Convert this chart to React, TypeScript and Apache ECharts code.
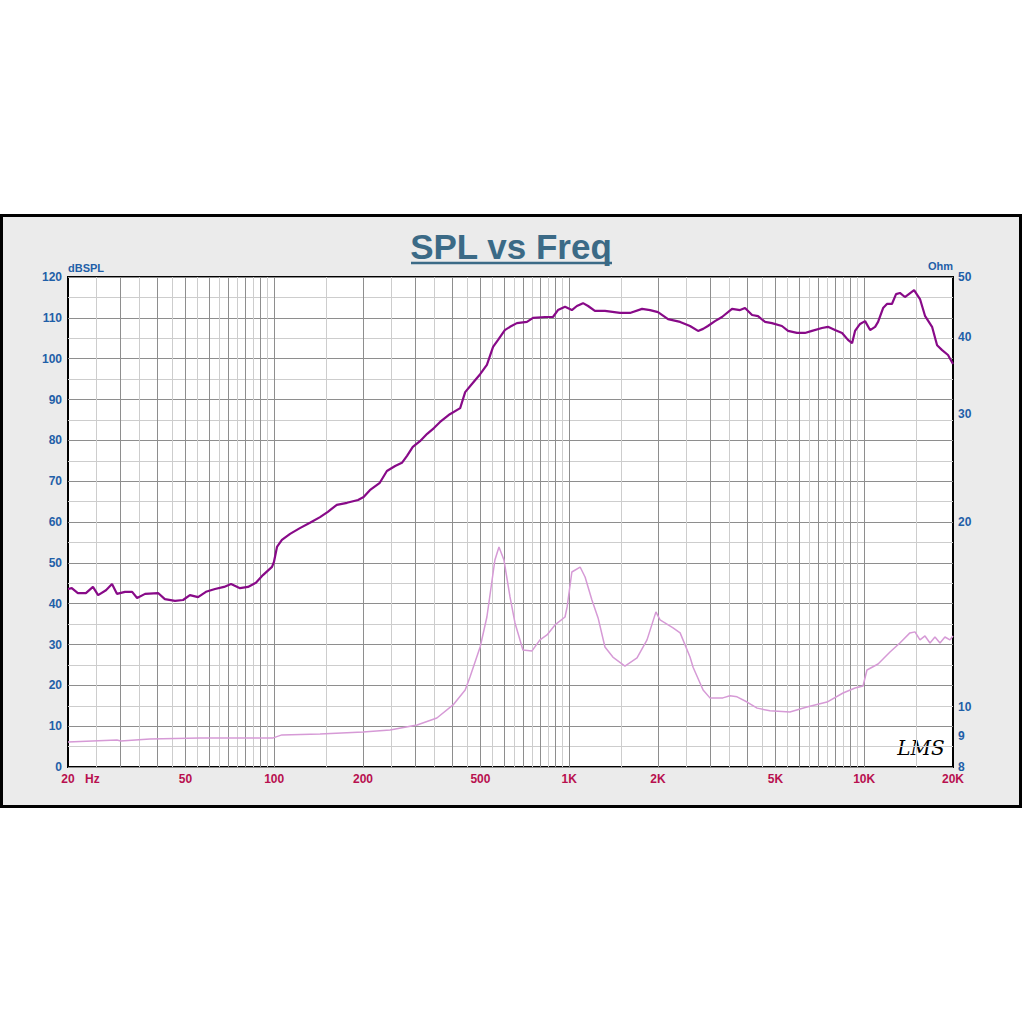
import React, { useEffect, useRef } from "react";
import * as echarts from "echarts";

// SPL curve (frequency Hz, dB SPL)
const SPL_FREQ = [20, 20.6, 21.6, 23.0, 24.3, 25.3, 26.9, 28.2, 29.3, 31.2, 33.0, 34.3, 36.5, 40.4, 42.6, 46.1, 49.1, 51.8, 55.2, 58.7, 63.0, 67.6, 71.4, 76.6, 81.5, 86.7, 91.6, 98.3, 99.8, 102.2, 106.2, 113.2, 122.2, 132.2, 143, 152, 163, 176.6, 192.4, 201, 211, 228, 241, 257, 271, 282, 295, 312, 330, 348, 365, 394, 427, 444, 468, 499, 526, 552, 574, 605, 630, 665, 719, 754, 828, 881, 916, 968, 1021, 1062, 1114, 1159, 1222, 1322, 1486, 1607, 1766, 1880, 2000, 2163, 2377, 2568, 2734, 2844, 2952, 3120, 3296, 3564, 3794, 3945, 4168, 4366, 4613, 4866, 5260, 5521, 5916, 6296, 6654, 7194, 7534, 7962, 8414, 8812, 9098, 9311, 9683, 10070, 10472, 10890, 11144, 11589, 11941, 12418, 12823, 13213, 13740, 14762, 15458, 16072, 16985, 17665, 18372, 19237, 20000];
const SPL_DB = [43.6, 43.8, 42.6, 42.6, 44.1, 42.1, 43.3, 44.8, 42.4, 42.9, 42.9, 41.4, 42.4, 42.6, 41.1, 40.7, 40.9, 42.1, 41.6, 42.9, 43.6, 44.1, 44.8, 43.8, 44.1, 45.1, 47.0, 49.0, 50.2, 53.9, 55.6, 57.1, 58.5, 59.8, 61.2, 62.5, 64.2, 64.7, 65.4, 66.1, 67.8, 69.6, 72.5, 73.7, 74.5, 76.2, 78.4, 79.8, 81.6, 83.0, 84.5, 86.4, 87.9, 91.8, 93.8, 96.2, 98.5, 102.9, 104.6, 107.0, 107.8, 108.7, 109.0, 110.0, 110.2, 110.2, 111.9, 112.7, 111.9, 112.9, 113.6, 112.9, 111.7, 111.7, 111.2, 111.2, 112.2, 111.9, 111.4, 109.7, 109.0, 108.0, 106.8, 107.3, 108.0, 109.2, 110.2, 112.2, 111.9, 112.4, 110.7, 110.4, 109.0, 108.7, 108.0, 106.8, 106.3, 106.3, 106.8, 107.5, 107.8, 107.0, 106.3, 104.6, 103.8, 106.8, 108.5, 109.2, 107.0, 107.8, 109.0, 112.4, 113.4, 113.4, 115.8, 116.1, 115.1, 116.8, 114.6, 110.5, 107.8, 103.3, 102.1, 100.9, 98.7];

// Impedance curve (frequency Hz, Ohm)
const Z_FREQ = [20, 29.3, 30.2, 37.9, 56.0, 99.2, 106.2, 143, 200, 247, 305, 356, 404, 444, 461, 499, 526, 560, 578, 601, 630, 655, 697, 748, 796, 841, 895, 968, 984, 1021, 1089, 1132, 1194, 1253, 1322, 1406, 1545, 1698, 1836, 1968, 2032, 2249, 2377, 2568, 2630, 2844, 2999, 3319, 3507, 3707, 4009, 4335, 4792, 5600, 6395, 7481, 8478, 9311, 9910, 10219, 11144, 12231, 13213, 14288, 14863, 15458, 16072, 16710, 17375, 18065, 18783, 19530, 20000];
const Z_OHM = [8.78, 8.85, 8.82, 8.88, 8.92, 8.92, 9.02, 9.05, 9.12, 9.19, 9.36, 9.61, 10.09, 10.67, 11.20, 12.53, 14.02, 17.35, 18.22, 17.35, 15.11, 13.71, 12.39, 12.35, 12.87, 13.11, 13.61, 14.02, 14.56, 16.59, 16.90, 16.28, 14.94, 13.97, 12.53, 12.07, 11.67, 12.03, 12.87, 14.29, 13.87, 13.46, 13.21, 12.07, 11.62, 10.67, 10.36, 10.36, 10.44, 10.40, 10.20, 9.97, 9.87, 9.83, 10.01, 10.20, 10.55, 10.75, 10.83, 11.50, 11.76, 12.30, 12.72, 13.21, 13.26, 12.87, 13.06, 12.72, 13.01, 12.72, 13.01, 12.87, 13.06];

// Axis ticks / labels
const X_LABEL_VALUES = [20, 50, 100, 200, 500, 1000, 2000, 5000, 10000, 20000];
const X_LABEL_TEXT = ["20", "50", "100", "200", "500", "1K", "2K", "5K", "10K", "20K"];
const OHM_LABEL_VALUES = [8, 9, 10, 20, 30, 40, 50];
const DECADES = [10, 100, 1000, 10000];

// Vertical grid frequencies (log grid: major at k*decade, minor halfway)
const MAJOR_GRID: number[] = [];
const MINOR_GRID: number[] = [];
DECADES.forEach((d) => {
  for (let k = 1; k <= 9; k++) {
    const maj = k * d;
    const min = (k + 0.5) * d;
    if (maj > 20 && maj < 20000) MAJOR_GRID.push(maj);
    if (min > 20 && min < 20000) MINOR_GRID.push(min);
  }
});

const BLUE = "#1f5fa8";
const RED = "#b8104f";
const FONT = "'Liberation Sans', Arial, sans-serif";

export default function App() {
  const ref = useRef<HTMLDivElement>(null);

  useEffect(() => {
    document.body.style.margin = "0";
    const chart = echarts.init(ref.current!, undefined, { renderer: "svg" });

    const gridLine = (vals: number[], color: string) => ({
      type: "line",
      data: [],
      silent: true,
      z: 1,
      markLine: {
        silent: true,
        z: 1,
        symbol: ["none", "none"],
        label: { show: false },
        emphasis: { disabled: true },
        lineStyle: { color, width: 1, type: "solid" },
        data: vals.map((v) => ({ xAxis: v })),
      },
    });

    chart.setOption({
      animation: false,
      backgroundColor: "#ffffff",
      graphic: [
        {
          type: "rect",
          z: -10,
          shape: { x: 1.5, y: 215.5, width: 1019, height: 591 },
          style: { fill: "#ebebeb", stroke: "#000", lineWidth: 3 },
          silent: true,
        },
        {
          type: "text",
          x: 511,
          y: 246,
          style: {
            text: "SPL vs Freq",
            fill: "#3b6a86",
            font: `bold 35px ${FONT}`,
            textAlign: "center",
            textVerticalAlign: "middle",
          },
        },
        {
          type: "line",
          shape: { x1: 411, y1: 263, x2: 612, y2: 263 },
          style: { stroke: "#3b6a86", lineWidth: 2.5 },
        },
        {
          type: "text",
          x: 85,
          y: 779,
          style: {
            text: "Hz",
            fill: RED,
            font: `bold 12px ${FONT}`,
            textAlign: "left",
            textVerticalAlign: "middle",
          },
        },
        {
          type: "text",
          x: 921,
          y: 748,
          style: {
            text: "LMS",
            fill: "#000",
            font: `italic 20px 'DejaVu Serif', serif`,
            textAlign: "center",
            textVerticalAlign: "middle",
          },
        },
      ],
      grid: {
        left: 68,
        top: 277,
        width: 885,
        height: 490,
        show: true,
        backgroundColor: "#ffffff",
        borderColor: "#000",
        borderWidth: 2,
        containLabel: false,
      },
      xAxis: {
        type: "log",
        logBase: 10,
        min: 20,
        max: 20000,
        axisLine: { show: false },
        axisTick: { show: false },
        splitLine: { show: false },
        minorSplitLine: { show: false },
        axisLabel: {
          customValues: X_LABEL_VALUES,
          color: RED,
          fontWeight: "bold",
          fontSize: 12,
          fontFamily: FONT,
          margin: 6,
          formatter: (v: number) => {
            const i = X_LABEL_VALUES.findIndex((x) => Math.abs(x - v) / x < 1e-6);
            return i >= 0 ? X_LABEL_TEXT[i] : "";
          },
        },
      },
      yAxis: [
        {
          type: "value",
          min: 0,
          max: 120,
          interval: 10,
          name: "dBSPL",
          nameLocation: "end",
          nameGap: 4,
          nameTextStyle: { color: BLUE, fontWeight: "bold", fontSize: 11, fontFamily: FONT, align: "left" },
          axisLine: { show: false },
          axisTick: { show: false },
          axisLabel: { color: BLUE, fontWeight: "bold", fontSize: 12, fontFamily: FONT, margin: 6 },
          splitLine: { show: true, lineStyle: { color: "#8e8e8e", width: 1 } },
          minorTick: { show: false, splitNumber: 2 },
          minorSplitLine: { show: true, lineStyle: { color: "#cdcdcd", width: 1 } },
        },
        {
          type: "log",
          logBase: 10,
          min: 8,
          max: 50,
          position: "right",
          name: "Ohm",
          nameLocation: "end",
          nameGap: 4,
          nameTextStyle: { color: BLUE, fontWeight: "bold", fontSize: 11, fontFamily: FONT, align: "right" },
          axisLine: { show: false },
          axisTick: { show: false },
          splitLine: { show: false },
          minorSplitLine: { show: false },
          axisLabel: {
            customValues: OHM_LABEL_VALUES,
            color: BLUE,
            fontWeight: "bold",
            fontSize: 12,
            fontFamily: FONT,
            margin: 5,
            formatter: (v: number) => String(Math.round(v)),
          },
        },
      ],
      series: [
        gridLine(MINOR_GRID, "#cdcdcd"),
        gridLine(MAJOR_GRID, "#8e8e8e"),
        {
          type: "line",
          name: "Impedance",
          yAxisIndex: 1,
          z: 3,
          showSymbol: false,
          symbol: "none",
          silent: true,
          lineStyle: { color: "#d69ad6", width: 1.5 },
          data: Z_FREQ.map((f, i) => [f, Z_OHM[i]]),
        },
        {
          type: "line",
          name: "SPL",
          yAxisIndex: 0,
          z: 4,
          showSymbol: false,
          symbol: "none",
          silent: true,
          lineStyle: { color: "#880a88", width: 2.2 },
          data: SPL_FREQ.map((f, i) => [f, SPL_DB[i]]),
        },
      ],
    });

    return () => chart.dispose();
  }, []);

  return <div ref={ref} style={{ width: 1024, height: 1024 }} />;
}
